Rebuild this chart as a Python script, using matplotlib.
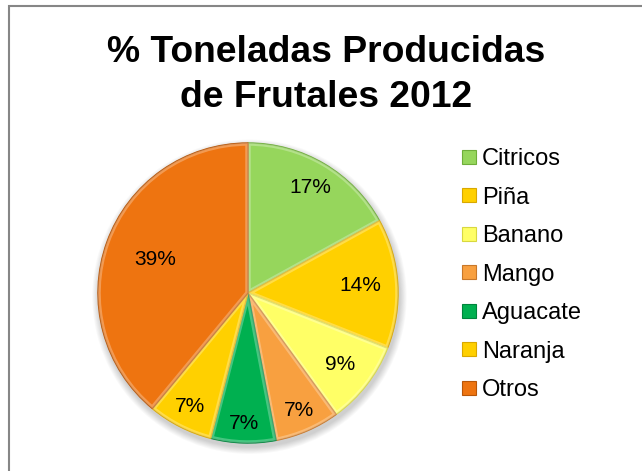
import matplotlib
matplotlib.use("Agg")
import matplotlib.pyplot as plt
from matplotlib.patches import Rectangle, Circle, Patch, Wedge
import numpy as np

# Data
categories = ["Citricos", "Piña", "Banano", "Mango", "Aguacate", "Naranja", "Otros"]
percentages = [17, 14, 9, 7, 7, 7, 39]
title_lines = ["% Toneladas Producidas", "de Frutales 2012"]

# Styling
colors = ["#96d65c", "#ffd000", "#ffff66", "#f8a040", "#00b050", "#ffd000", "#ee7410"]
edge_colors = ["#6fae3a", "#d9a800", "#d8d840", "#c8782a", "#00843c", "#d9a800", "#b85608"]
label_radius = [0.82, 0.75, 0.78, 0.85, 0.87, 0.85, 0.66]

plt.rcParams["font.family"] = ["Liberation Sans", "DejaVu Sans"]

W, H = 642, 471
fig = plt.figure(figsize=(W / 100, H / 100), dpi=100)
fig.patch.set_facecolor("white")

# Chart frame (cut off at the right and bottom)
fig.add_artist(Rectangle((8.5 / W, -0.1), 1.2, (H - 6) / H + 0.1,
                         transform=fig.transFigure, fill=False,
                         edgecolor="#868686", linewidth=1.5))

# Two-line title, baselines at 61.5 px and 106.5 px from the top
for line, base in zip(title_lines, [61.5, 106.5]):
    fig.text(326 / W, 1 - base / H, line, ha="center", va="baseline",
             fontsize=26.8, fontweight="bold")

# Pie axes: centre (248, 293) px, radius 150 px
cx, cy, r = 248, 293, 150
ax = fig.add_axes([(cx - r) / W, (H - cy - r) / H, 2 * r / W, 2 * r / H])
ax.set_aspect("equal")
ax.axis("off")

# soft drop shadow
for i in range(8):
    ax.add_patch(Circle((0.01, -0.025), 1.0 + 0.006 * (8 - i), color="black",
                        alpha=0.025, lw=0, clip_on=False, zorder=0))

wedges, _ = ax.pie(percentages, colors=colors, startangle=90, counterclock=False,
                   radius=1.0, wedgeprops=dict(linewidth=1.0, zorder=2))
for w, ec in zip(wedges, edge_colors):
    w.set_edgecolor(ec)
    w.set_clip_on(False)
    # bevel: light inner rim clipped to the slice
    rim = Wedge(w.center, w.r, w.theta1, w.theta2, facecolor="none",
                edgecolor="white", linewidth=4, alpha=0.28, zorder=3)
    ax.add_patch(rim)
    rim.set_clip_path(w)

ax.set_xlim(-1, 1)
ax.set_ylim(-1, 1)

for w, p, rr in zip(wedges, percentages, label_radius):
    ang = np.deg2rad((w.theta1 + w.theta2) / 2)
    ax.text(rr * np.cos(ang), rr * np.sin(ang), f"{p}%", ha="center", va="center",
            fontsize=15, zorder=5)

handles = [Patch(facecolor=c, edgecolor=e, linewidth=0.8) for c, e in zip(colors, edge_colors)]
fig.legend(handles, categories, loc="upper left", bbox_to_anchor=(462 / W, 1 - 148 / H),
           frameon=False, fontsize=17, handlelength=0.6, handleheight=0.55,
           handletextpad=0.25, labelspacing=0.7, borderpad=0, borderaxespad=0)

fig.savefig("out.png", dpi=100)
